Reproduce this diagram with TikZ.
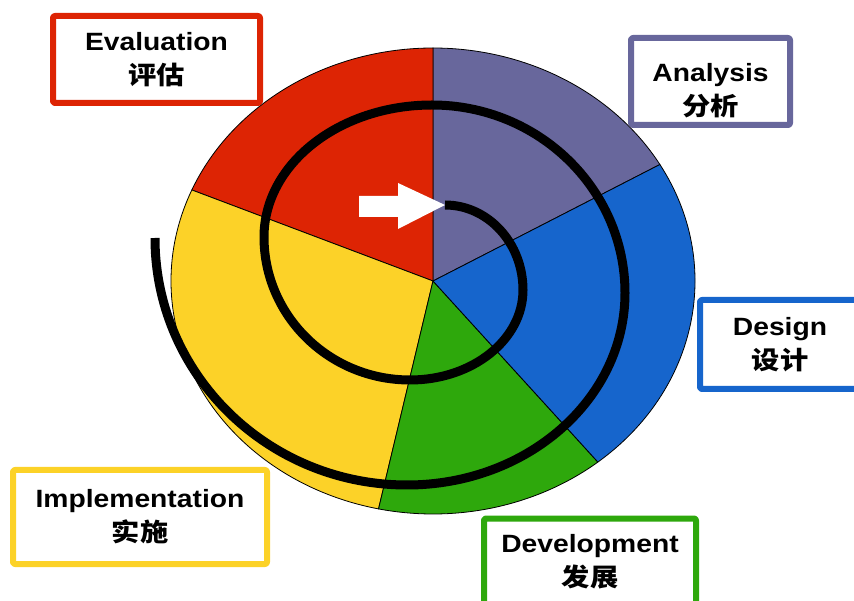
\documentclass[tikz,border=0pt]{standalone}
\usepackage{fontspec}
\setmainfont{Liberation Sans}[FakeStretch=1.13]
\newfontfamily\cjk{Noto Sans CJK SC}[FakeStretch=1.13]
\definecolor{cRed}{RGB}{221,36,4}
\definecolor{cPurple}{RGB}{104,103,156}
\definecolor{cBlue}{RGB}{22,101,204}
\definecolor{cGreen}{RGB}{46,168,12}
\definecolor{cYellow}{RGB}{252,210,40}
\begin{document}
\begin{tikzpicture}[x=1pt,y=1pt,line join=round,
		font=\fontsize{25}{34}\selectfont\bfseries,
		stage/.style={draw=#1,line width=6pt,rounded corners=2pt,fill=white,align=center,inner sep=0pt,minimum height=87pt},
		wedge/.style={fill=#1,draw=black,line width=0.8pt}]
	\def\cx{433} \def\cy{319}
	\def\rx{262} \def\ry{233}
	\useasboundingbox (0,0) rectangle (854,600);
	\foreach \a/\b/\col in {30/90/cPurple,90/157/cRed,157/258/cYellow,258/309/cGreen,309/390/cBlue} {
		\draw[wedge=\col] (\cx,\cy) -- ({\cx+\rx*cos(\a)},{\cy+\ry*sin(\a)})
		arc[start angle=\a,end angle=\b,x radius=\rx,y radius=\ry] -- cycle;
	}
	\coordinate (start) at (445,395);
	\draw[line width=9pt] (start)
	arc[start angle=90,end angle=0,x radius=78,y radius=85]
	arc[start angle=0,end angle=-90,x radius=113,y radius=90]
	arc[start angle=-90,end angle=-180,x radius=146,y radius=143]
	arc[start angle=180,end angle=90,x radius=168,y radius=132]
	arc[start angle=90,end angle=0,x radius=193,y radius=188]
	arc[start angle=0,end angle=-90,x radius=218,y radius=192]
	arc[start angle=-90,end angle=-180,x radius=252,y radius=247] coordinate (end);
	\fill[white] (359,404) -- (398,404) -- (398,417) -- (start) -- (398,371) -- (398,383) -- (359,383) -- cycle;
	\node[stage=cRed,minimum width=207pt] (eval) at (156.5,540.5) {Evaluation\\{\cjk 评估}};
	\node[stage=cPurple,minimum width=159pt] (analysis) at (710.5,518.5) {};
	\node[align=center] (analysis text) at ([yshift=-9pt]analysis.center) {Analysis\\{\cjk 分析}};
	\node[stage=cBlue,minimum width=160pt,minimum height=89pt] (design) at (780,255.5) {Design\\{\cjk 设计}};
	\node[stage=cYellow,minimum width=254pt,minimum height=94pt] (impl) at (140,83) {Implementation\\{\cjk 实施}};
	\node[stage=cGreen,minimum width=212pt] (dev) at (590,38) {Development\\{\cjk 发展}};
\end{tikzpicture}
\end{document}
